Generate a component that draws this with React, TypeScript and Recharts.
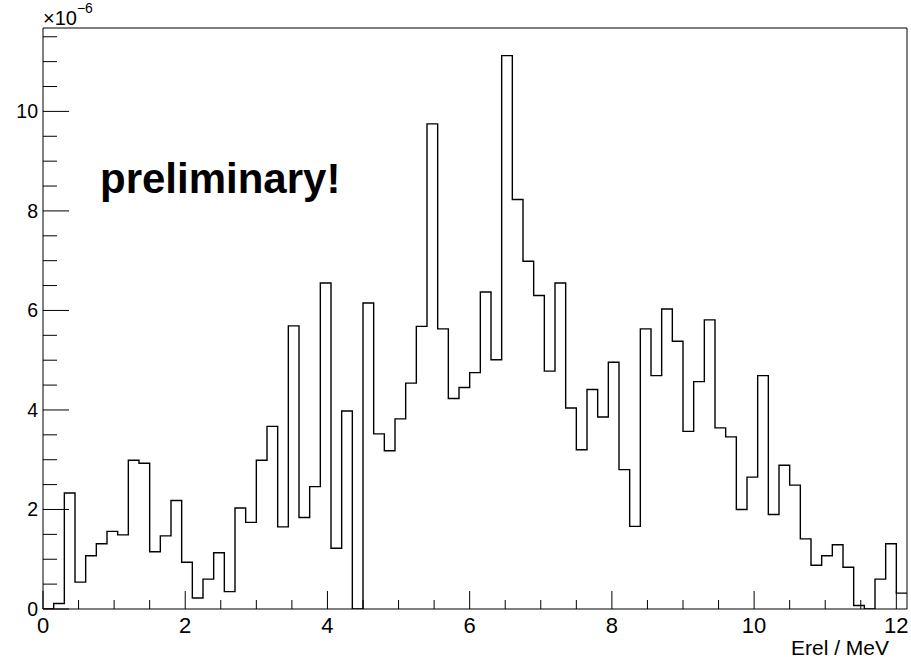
import { ComposedChart, Line, XAxis, YAxis, ReferenceLine } from 'recharts'

// Erel histogram, 81 bins of 0.15 MeV starting at 0, contents in units of 1e-6
const binWidth = 0.15
const counts = [
  0, 0.11, 2.33, 0.54, 1.07, 1.31, 1.56, 1.49, 2.99, 2.93,
  1.15, 1.47, 2.18, 0.94, 0.22, 0.6, 1.13, 0.35, 2.03, 1.74,
  2.99, 3.67, 1.65, 5.69, 1.84, 2.46, 6.55, 1.22, 3.98, 0,
  6.15, 3.52, 3.18, 3.82, 4.54, 5.68, 9.75, 5.63, 4.23, 4.45,
  4.75, 6.37, 5.01, 11.12, 8.23, 6.99, 6.3, 4.78, 6.55, 4.04,
  3.2, 4.41, 3.86, 4.96, 2.8, 1.66, 5.63, 4.69, 6.03, 5.38,
  3.57, 4.57, 5.81, 3.64, 3.46, 2.0, 2.65, 4.69, 1.9, 2.89,
  2.49, 1.41, 0.88, 1.07, 1.29, 0.84, 0.07, 0, 0.6, 1.31,
  0.32,
]

const xTicks = [0, 0.5, 1, 1.5, 2, 2.5, 3, 3.5, 4, 4.5, 5, 5.5, 6, 6.5, 7, 7.5, 8, 8.5, 9, 9.5, 10, 10.5, 11, 11.5, 12]
const yTicks = [0, 0.5, 1, 1.5, 2, 2.5, 3, 3.5, 4, 4.5, 5, 5.5, 6, 6.5, 7, 7.5, 8, 8.5, 9, 9.5, 10, 10.5, 11, 11.5]
const majorStep = 2

const xMax = binWidth * counts.length
const yMax = Math.max(...counts) * 1.05

// step line needs one extra point to close the last bin
const data = [
  ...counts.map((v, i) => ({ x: +(i * binWidth).toFixed(2), v })),
  { x: xMax, v: counts[counts.length - 1] },
]

const FONT = '"Liberation Sans", Arial, Helvetica, sans-serif'
const isMajor = (v: number) => Math.abs(v / majorStep - Math.round(v / majorStep)) < 1e-6

const XTick = ({ x, y, payload }: any) => {
  const major = isMajor(payload.value)
  return (
    <g>
      <line x1={x} x2={x} y1={y} y2={y - (major ? 18 : 9)} stroke="#000" strokeWidth={1} />
      {major && (
        <text x={x} y={y + 24} textAnchor="middle" fontSize={22} fontFamily={FONT} fill="#000">
          {payload.value}
        </text>
      )}
    </g>
  )
}

const YTick = ({ x, y, payload }: any) => {
  const major = isMajor(payload.value)
  return (
    <g>
      <line x1={x} x2={x + (major ? 26 : 14)} y1={y} y2={y} stroke="#000" strokeWidth={1} />
      {major && (
        <text x={x - 5} y={y} dy="0.35em" textAnchor="end" fontSize={19.5} fontFamily={FONT} fill="#000">
          {payload.value}
        </text>
      )}
    </g>
  )
}

export default function App() {
  return (
    <div style={{ position: 'absolute', left: 0, top: 0, background: '#fff' }}>
      <ComposedChart width={911} height={658} data={data} margin={{ top: 28, right: 4, bottom: 0, left: 0 }}>
        <XAxis
          dataKey="x"
          type="number"
          domain={[0, xMax]}
          allowDataOverflow
          ticks={xTicks}
          interval={0}
          tick={<XTick />}
          tickLine={false}
          tickSize={0}
          tickMargin={0}
          height={49}
          axisLine={{ stroke: '#000', strokeWidth: 1 }}
        />
        <YAxis
          type="number"
          domain={[0, yMax]}
          allowDataOverflow
          ticks={yTicks}
          interval={0}
          tick={<YTick />}
          tickLine={false}
          tickSize={0}
          tickMargin={0}
          width={43}
          axisLine={{ stroke: '#000', strokeWidth: 1 }}
        />
        <ReferenceLine y={yMax} stroke="#000" strokeWidth={1} />
        <ReferenceLine x={xMax} stroke="#000" strokeWidth={1} />
        <Line
          dataKey="v"
          type="stepAfter"
          stroke="#000"
          strokeWidth={1.4}
          dot={false}
          activeDot={false}
          isAnimationActive={false}
        />
        <text x={43} y={25} fontSize={20} fontFamily={FONT} fill="#000">
          ×10
          <tspan fontSize={14} dy={-12}>−6</tspan>
        </text>
        <text x={100} y={193} fontSize={42} fontWeight="bold" fontFamily={FONT} fill="#000">
          preliminary!
        </text>
        <text x={889} y={655} textAnchor="end" fontSize={21} fontFamily={FONT} fill="#000">
          Erel / MeV
        </text>
      </ComposedChart>
    </div>
  )
}
